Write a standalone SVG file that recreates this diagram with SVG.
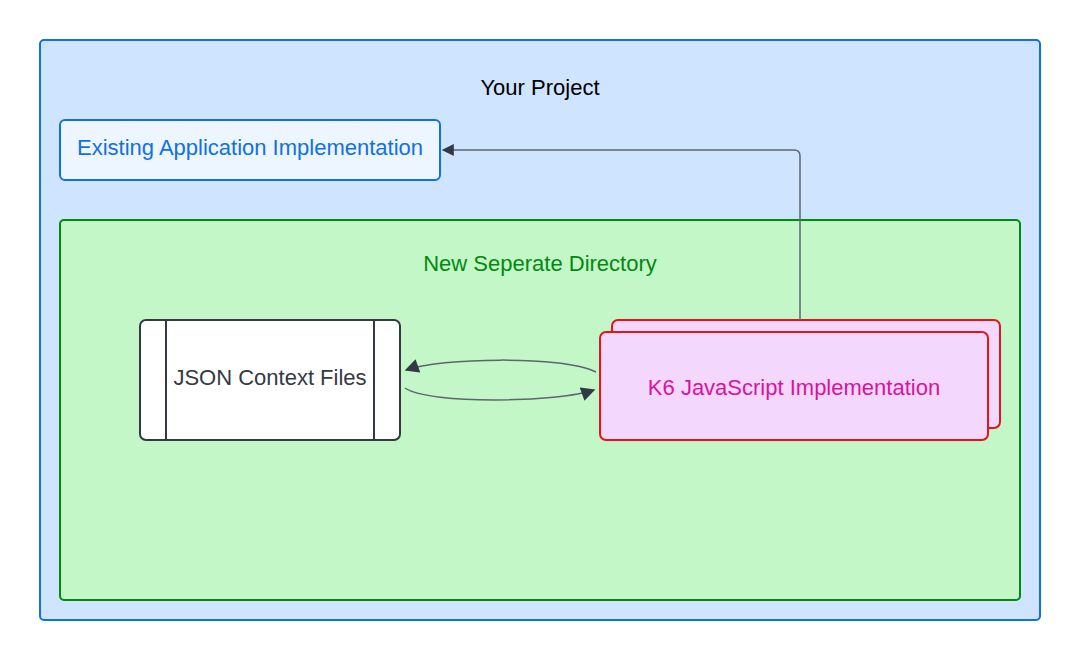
<svg xmlns="http://www.w3.org/2000/svg" width="1080" height="660" viewBox="0 0 1080 660">
<style>
.t{font-family:"Liberation Sans",Arial,sans-serif;font-size:22px;text-anchor:middle;dominant-baseline:central}
.c{fill:none;stroke:#5e6570;stroke-width:1.5}
.k6{fill:#f4d7fd;stroke:#e81318;stroke-width:2}
</style>
<defs>
<marker id="ah" viewBox="0 0 10 10" refX="9" refY="5" markerWidth="13" markerHeight="12" markerUnits="userSpaceOnUse" orient="auto">
<path d="M0,0 L10,5 L0,10 z" fill="#333a45"/>
</marker>
<marker id="ah2" viewBox="0 0 10 10" refX="9" refY="5" markerWidth="15" markerHeight="14" markerUnits="userSpaceOnUse" orient="auto">
<path d="M0,0 L10,5 L0,10 z" fill="#333a45"/>
</marker>
</defs>
<rect width="1080" height="660" fill="#ffffff"/>
<g id="your-project">
<rect x="40" y="40" width="1000" height="580" rx="4" fill="#cfe4ff" stroke="#1071e5" stroke-width="2"/>
<text class="t" x="540" y="87" fill="#000000">Your Project</text>
</g>
<g id="existing-app">
<rect x="60" y="120" width="380" height="60" rx="5" fill="#edf5ff" stroke="#1071e5" stroke-width="2"/>
<text class="t" x="250" y="147" fill="#1071e5">Existing Application Implementation</text>
</g>
<g id="new-directory">
<rect x="60" y="220" width="960" height="380" rx="4" fill="#c3f7c8" stroke="#008a0e" stroke-width="2"/>
<text class="t" x="540" y="263" fill="#008a0e">New Seperate Directory</text>
</g>
<g id="json-files">
<rect x="140" y="320" width="260" height="120" rx="6" fill="#ffffff" stroke="#333a45" stroke-width="2"/>
<line x1="166" y1="320" x2="166" y2="440" stroke="#333a45" stroke-width="2"/>
<line x1="374" y1="320" x2="374" y2="440" stroke="#333a45" stroke-width="2"/>
<text class="t" x="270" y="377" fill="#333a45">JSON Context Files</text>
</g>
<g id="k6-impl">
<rect class="k6" x="612" y="320" width="388" height="108" rx="6"/>
<rect class="k6" x="600" y="332" width="388" height="108" rx="6"/>
<text class="t" x="794" y="387" fill="#d9139e">K6 JavaScript Implementation</text>
</g>
<g id="connectors">
<path class="c" d="M800,320 L800,156 Q800,150 794,150 L443,150" marker-end="url(#ah)"/>
<path class="c" d="M596,372 C560,355 440,358 406,370" marker-end="url(#ah2)"/>
<path class="c" d="M405,388 C430,405 560,402 594,390" marker-end="url(#ah2)"/>
</g>
</svg>
